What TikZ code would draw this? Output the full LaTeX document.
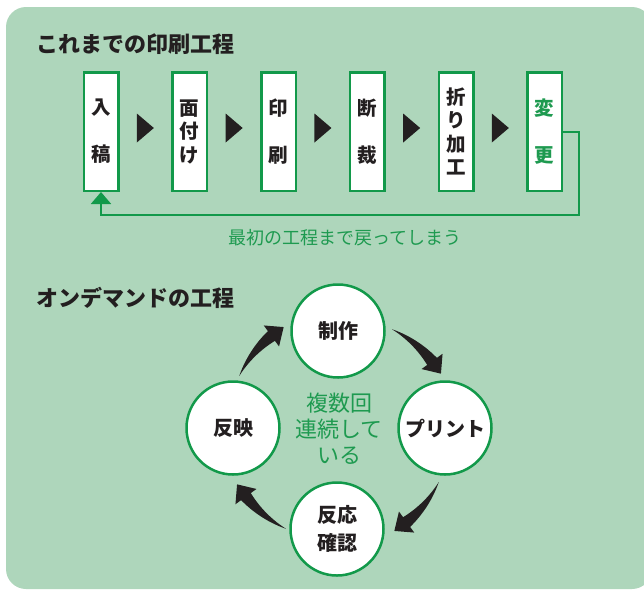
\documentclass[tikz,border=0pt]{standalone}
\usepackage{fontspec}
\setmainfont{Noto Sans CJK JP}
\newfontfamily\jpb{Noto Sans CJK JP Black}
\usetikzlibrary{arrows.meta,calc}
\definecolor{bgreen}{HTML}{AED6BB}
\definecolor{lgreen}{HTML}{12994A}
\definecolor{tgreen}{HTML}{1E9A50}
\definecolor{tblack}{HTML}{231F20}
\tikzset{
  stepbox/.style={draw=lgreen, line width=2.5pt, fill=white, minimum width=34.5pt,
    minimum height=118.5pt, inner sep=0pt, align=center,
    font=\jpb\fontsize{19.5}{23.5}\selectfont, text=tblack},
  cyc/.style={circle, draw=lgreen, line width=2.5pt, fill=white, minimum size=93pt,
    inner sep=0pt, align=center, font=\jpb\fontsize{20}{28}\selectfont, text=tblack},
  heading/.style={anchor=west, inner sep=0pt, font=\jpb\fontsize{22}{26}\selectfont, text=tblack},
  gline/.style={draw=lgreen, line width=2pt}
}
\begin{document}
\begin{tikzpicture}[x=1pt,y=-1pt]
\useasboundingbox (0,0) rectangle (644,590);
\fill[bgreen, rounded corners=20pt] (6,7) rectangle (652,589);

\node[heading] (h1) at (36,44) {これまでの印刷工程};

\node[stepbox] (b1) at (101,131.5) {入\\[23.5pt]稿};
\node[stepbox] (b2) at (189.7,131.5) {面\\付\\け};
\node[stepbox] (b3) at (278.6,131.5) {印\\[23.5pt]刷};
\node[stepbox] (b4) at (367.3,131.5) {断\\[23.5pt]裁};
\node[stepbox] (b5) at (456,131.5) {折\\り\\加\\工};
\node[stepbox, text=tgreen] (b6) at (544.7,131.5) {変\\[23.5pt]更};

\foreach \a/\b [count=\i] in {b1/b2,b2/b3,b3/b4,b4/b5,b5/b6}{
  \coordinate (t\i) at ($(\a.east)!0.5!(\b.west)+(0,-3.5)$);
  \fill[tblack] ($(t\i)+(-8.5,-14.5)$) -- ($(t\i)+(8.5,0)$) -- ($(t\i)+(-8.5,14.5)$) -- cycle;
}

\draw[gline, -{Triangle[width=20pt,length=12pt]}] (b6.east) -- ++(16,0) -- ++(0,83.5) -| (b1.south);
\node[inner sep=0pt, text=tgreen, font=\fontsize{18}{22}\selectfont] (lbl) at (345,238) {最初の工程まで戻ってしまう};

\node[heading] (h2) at (36,298) {オンデマンドの工程};

\coordinate (ctr) at (339,429);
\node[cyc] (c1) at (338,331) {制作};
\node[cyc] (c2) at (445,428) {プリント};
\node[cyc] (c3) at (337,529) {反応\\確認};
\node[cyc] (c4) at (233,428) {反映};
\node[align=center, text=tgreen, inner sep=0pt, font=\fontsize{22}{26}\selectfont] (mid) at (ctr) {複数回\\連続して\\いる};

\foreach \r in {0,-90,-180,-270}{
  \begin{scope}[shift={(ctr)}, yscale=-1, rotate=\r]
    \fill[tblack] plot[smooth, domain=62:36, samples=14] (\x:{113+(62-\x)*8/26})
      -- (36:128) -- (28.5:116) -- (36:102)
      -- plot[smooth, domain=36:62, samples=14] (\x:{109+(\x-36)*4/26}) -- cycle;
  \end{scope}
}
\end{tikzpicture}
\end{document}
